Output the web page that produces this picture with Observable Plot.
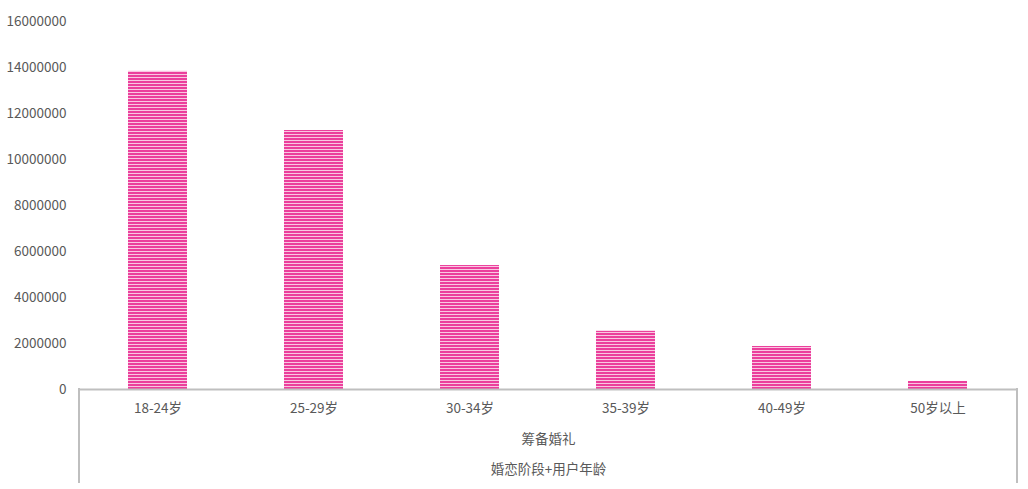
<!DOCTYPE html>
<html>
<head>
<meta charset="utf-8">
<script src="https://cdn.jsdelivr.net/npm/d3@7"></script>
<script src="https://cdn.jsdelivr.net/npm/@observablehq/plot@0.6"></script>
<style>
  html, body { margin: 0; padding: 0; background: #fff; }
  #chart { width: 1028px; height: 489px; }
</style>
</head>
<body>
<div id="chart"></div>
<script>
const categories = ["18-24岁", "25-29岁", "30-34岁", "35-39岁", "40-49岁", "50岁以上"];
const values = [13830000, 11260000, 5390000, 2530000, 1870000, 350000];
const yTicks = [0, 2000000, 4000000, 6000000, 8000000, 10000000, 12000000, 14000000, 16000000];
const groupLabel = ["筹备婚礼"];
const axisTitle = ["婚恋阶段+用户年龄"];

const data = categories.map((c, i) => ({category: c, value: values[i]}));

const plot = Plot.plot({
  width: 1028,
  height: 489,
  marginLeft: 79,
  marginRight: 11,
  marginTop: 21,
  marginBottom: 100,
  style: {fontFamily: "'Noto Sans CJK SC', 'Noto Sans', sans-serif", fontSize: "13.5px", color: "#595959", background: "#fff"},
  x: {domain: categories, paddingInner: 0.62, paddingOuter: 0.31, label: null},
  y: {domain: [0, 16000000], label: null},
  marks: [
    Plot.barY(data, {x: "category", y: "value", fill: "url(#stripes)"}),
    Plot.ruleY([0], {stroke: "#BFBFBF", strokeWidth: 2}),
    Plot.axisY({ticks: yTicks, tickSize: 0, tickPadding: 13, tickFormat: d3.format("d"), fill: "#595959", label: null, fontSize: 13.5}),
    Plot.axisX({tickSize: 0, tickPadding: 14, fill: "#595959", label: null, fontSize: 13.5}),
    Plot.text(groupLabel, {frameAnchor: "bottom", dy: 54, text: d => d, fill: "#595959", fontSize: 13.5}),
    Plot.text(axisTitle, {frameAnchor: "bottom", dy: 84, text: d => d, fill: "#595959", fontSize: 13.5})
  ]
});

const svg = d3.select(plot);
const defs = svg.insert("defs", ":first-child");
const pat = defs.append("pattern")
  .attr("id", "stripes")
  .attr("patternUnits", "userSpaceOnUse")
  .attr("width", 8).attr("height", 3);
pat.append("rect").attr("width", 8).attr("height", 3).attr("fill", "#EB3F9C");
pat.append("rect").attr("y", 2).attr("width", 8).attr("height", 1).attr("fill", "#F9C7E1");

// bracket lines below the category axis, placed from the x scale range
const xr = plot.scale("x").range;
const yb = plot.scale("y").apply(0);
[xr[0], xr[1]].forEach(x => {
  svg.append("line")
    .attr("x1", x).attr("x2", x)
    .attr("y1", yb - 1).attr("y2", 483)
    .attr("stroke", "#BFBFBF").attr("stroke-width", 2);
});

document.getElementById("chart").appendChild(plot);
</script>
</body>
</html>
